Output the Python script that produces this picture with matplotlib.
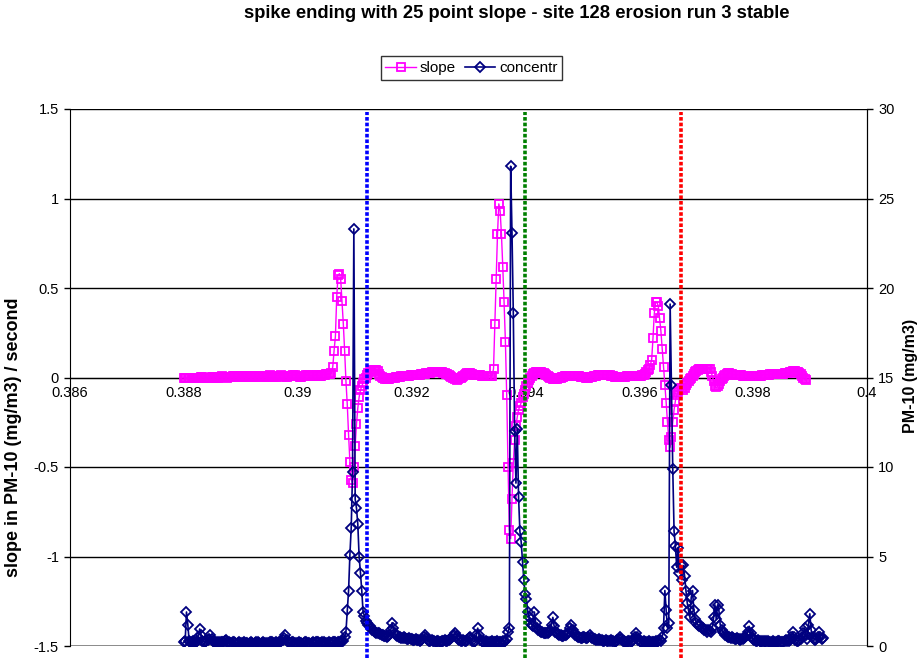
import numpy as np
import matplotlib
matplotlib.use("Agg")
import matplotlib.pyplot as plt

plt.rcParams['font.family'] = ['Liberation Sans', 'DejaVu Sans']

# logger samples every 2 s, time axis in fraction of a day
t_start = 0.388
t_step = 2 / 86400.0

# 25 point slope, PM-10 (mg/m3) / second
slope = [
    0.00, 0.00, -0.005, -0.005, -0.005, 0.00, 0.00, 0.00, -0.005, -0.005,   # 0
    -0.005, 0.00, 0.00, 0.005, 0.005, 0.00, 0.00, -0.005, 0.00, 0.00,
    0.00, 0.005, 0.005, 0.005, 0.00, 0.00, 0.00, 0.005, 0.005, 0.01,
    0.005, 0.005, 0.005, 0.00, 0.005, 0.005, 0.005, 0.01, 0.01, 0.005,
    0.005, 0.005, 0.005, 0.01, 0.01, 0.01, 0.005, 0.005, 0.005, 0.01,
    0.01, 0.01, 0.01, 0.005, 0.005, 0.005, 0.01, 0.01, 0.01, 0.01,       # 50
    0.01, 0.005, 0.005, 0.01, 0.01, 0.015, 0.01, 0.01, 0.005, 0.005,
    0.005, 0.01, 0.01, 0.01, 0.015, 0.01, 0.01, 0.005, 0.005, 0.01,
    0.01, 0.01, 0.01, 0.015, 0.015, 0.01, 0.01, 0.01, 0.005, 0.005,
    0.01, 0.01, 0.01, 0.015, 0.015, 0.01, 0.01, 0.01, 0.01, 0.01,
    0.015, 0.015, 0.01, 0.01, 0.01, 0.015, 0.015, 0.015, 0.02, 0.02,     # 100
    0.02, 0.02, 0.025, 0.06, 0.15, 0.23, 0.45, 0.57, 0.58, 0.55,
    0.43, 0.30, 0.15, -0.02, -0.15, -0.32, -0.47, -0.57, -0.59, -0.50,
    -0.38, -0.26, -0.17, -0.11, -0.07, -0.05, -0.03, -0.01, 0.00, 0.015,
    0.025, 0.03, 0.035, 0.04, 0.04, 0.04, 0.04, 0.035, 0.02, 0.01,
    0.005, 0.00, -0.005, -0.01, -0.01, -0.01, -0.01, -0.005, -0.005, 0.00,  # 150
    0.00, 0.005, 0.005, 0.005, 0.005, 0.01, 0.01, 0.01, 0.01, 0.01,
    0.01, 0.01, 0.015, 0.015, 0.015, 0.015, 0.015, 0.015, 0.015, 0.015,
    0.02, 0.02, 0.02, 0.02, 0.025, 0.025, 0.025, 0.025, 0.03, 0.03,
    0.03, 0.03, 0.03, 0.03, 0.03, 0.03, 0.03, 0.025, 0.025, 0.02,
    0.02, 0.015, 0.01, 0.005, 0.00, -0.005, -0.01, -0.015, -0.01, -0.005,  # 200
    0.00, 0.005, 0.01, 0.015, 0.02, 0.025, 0.025, 0.025, 0.02, 0.02,
    0.015, 0.015, 0.015, 0.015, 0.015, 0.015, 0.01, 0.01, 0.01, 0.01,
    0.01, 0.01, 0.01, 0.01, 0.01, 0.05, 0.30, 0.55, 0.80, 0.97,
    0.93, 0.80, 0.62, 0.42, 0.20, -0.10, -0.50, -0.85, -0.90, -0.68,
    -0.48, -0.35, -0.27, -0.22, -0.18, -0.16, -0.14, -0.11, -0.09, -0.07,  # 250
    -0.05, -0.03, -0.015, 0.00, 0.01, 0.02, 0.025, 0.03, 0.03, 0.03,
    0.03, 0.03, 0.025, 0.025, 0.02, 0.015, 0.01, 0.005, 0.00, -0.005,
    -0.01, -0.01, -0.01, -0.01, -0.005, 0.00, 0.00, 0.005, 0.005, 0.01,
    0.01, 0.01, 0.01, 0.01, 0.01, 0.01, 0.01, 0.01, 0.01, 0.01,
    0.01, 0.005, 0.005, 0.005, 0.005, 0.00, 0.00, 0.00, 0.005, 0.005,    # 300
    0.005, 0.01, 0.01, 0.01, 0.015, 0.015, 0.015, 0.015, 0.015, 0.015,
    0.015, 0.015, 0.015, 0.015, 0.01, 0.01, 0.01, 0.005, 0.005, 0.005,
    0.005, 0.005, 0.005, 0.005, 0.005, 0.005, 0.01, 0.01, 0.01, 0.01,
    0.01, 0.01, 0.01, 0.01, 0.01, 0.01, 0.01, 0.01, 0.015, 0.015,
    0.02, 0.03, 0.04, 0.05, 0.07, 0.10, 0.22, 0.36, 0.42, 0.42,          # 350
    0.40, 0.33, 0.26, 0.16, 0.06, -0.04, -0.14, -0.25, -0.35, -0.39,
    -0.33, -0.25, -0.18, -0.13, -0.10, -0.08, -0.07, -0.06, -0.06, -0.07,
    -0.06, -0.04, -0.03, -0.02, -0.01, 0.00, 0.01, 0.02, 0.03, 0.035,
    0.04, 0.045, 0.05, 0.05, 0.05, 0.05, 0.05, 0.05, 0.05, 0.045,
    0.03, 0.01, -0.02, -0.045, -0.055, -0.05, -0.035, -0.02, -0.01, 0.00,  # 400
    0.01, 0.015, 0.02, 0.025, 0.025, 0.02, 0.02, 0.015, 0.015, 0.015,
    0.015, 0.015, 0.015, 0.015, 0.01, 0.01, 0.01, 0.01, 0.01, 0.01,
    0.01, 0.01, 0.01, 0.01, 0.01, 0.01, 0.01, 0.01, 0.01, 0.015,
    0.015, 0.015, 0.015, 0.015, 0.015, 0.02, 0.02, 0.02, 0.02, 0.02,
    0.02, 0.02, 0.02, 0.02, 0.02, 0.02, 0.025, 0.025, 0.025, 0.025,      # 450
    0.03, 0.03, 0.035, 0.035, 0.035, 0.03, 0.03, 0.025, 0.02, 0.01,
    0.00, -0.01, -0.015,
]

# PM-10 concentration (mg/m3)
concentr = [
    0.2, 0.3, 1.9, 1.2, 0.3, 0.2, 0.25, 0.3, 0.2, 0.25,          # 0
    0.3, 0.5, 0.95, 0.6, 0.3, 0.25, 0.2, 0.3, 0.35, 0.4,
    0.6, 0.4, 0.3, 0.25, 0.2, 0.2, 0.15, 0.2, 0.25, 0.2,
    0.2, 0.3, 0.35, 0.25, 0.2, 0.15, 0.15, 0.2, 0.2, 0.15,
    0.1, 0.15, 0.2, 0.15, 0.1, 0.15, 0.2, 0.15, 0.15, 0.1,
    0.15, 0.2, 0.15, 0.1, 0.15, 0.2, 0.2, 0.15, 0.1, 0.15,       # 50
    0.2, 0.15, 0.15, 0.1, 0.15, 0.2, 0.25, 0.2, 0.15, 0.15,
    0.2, 0.15, 0.2, 0.25, 0.3, 0.35, 0.45, 0.6, 0.35, 0.25,
    0.2, 0.15, 0.2, 0.2, 0.15, 0.1, 0.15, 0.2, 0.15, 0.15,
    0.1, 0.15, 0.2, 0.2, 0.15, 0.15, 0.1, 0.15, 0.2, 0.15,
    0.2, 0.25, 0.2, 0.15, 0.15, 0.2, 0.2, 0.15, 0.1, 0.15,       # 100
    0.2, 0.15, 0.15, 0.2, 0.25, 0.2, 0.15, 0.2, 0.2, 0.25,
    0.3, 0.3, 0.5, 0.8, 2.0, 3.1, 5.1, 6.6, 9.7, 23.3,
    8.2, 7.7, 6.8, 5.0, 4.1, 3.1, 1.9, 1.7, 1.4, 1.3,
    1.2, 1.1, 1.0, 0.9, 0.85, 0.8, 0.75, 0.7, 0.7, 0.65,
    0.6, 0.6, 0.55, 0.55, 0.5, 0.55, 0.6, 0.9, 1.3, 1.0,         # 150
    0.7, 0.6, 0.55, 0.5, 0.5, 0.45, 0.45, 0.5, 0.45, 0.4,
    0.4, 0.45, 0.4, 0.4, 0.35, 0.35, 0.4, 0.35, 0.35, 0.3,
    0.35, 0.4, 0.5, 0.6, 0.45, 0.35, 0.3, 0.3, 0.35, 0.3,
    0.3, 0.25, 0.3, 0.3, 0.25, 0.25, 0.3, 0.3, 0.35, 0.3,
    0.3, 0.35, 0.4, 0.45, 0.55, 0.6, 0.7, 0.55, 0.4, 0.35,       # 200
    0.3, 0.3, 0.35, 0.3, 0.3, 0.35, 0.45, 0.5, 0.4, 0.3,
    0.25, 0.3, 0.6, 1.0, 0.6, 0.35, 0.3, 0.25, 0.25, 0.3,
    0.25, 0.2, 0.2, 0.25, 0.3, 0.25, 0.2, 0.25, 0.3, 0.25,
    0.2, 0.25, 0.3, 0.25, 0.3, 0.4, 0.8, 1.0, 26.8, 23.1,
    18.6, 12.0, 9.1, 12.1, 8.3, 6.4, 5.8, 4.7, 3.7, 2.9,         # 250
    2.6, 1.9, 1.6, 1.3, 1.2, 1.1, 1.9, 1.3, 1.0, 0.9,
    0.85, 0.8, 0.8, 0.75, 0.7, 0.7, 0.75, 0.8, 0.9, 1.2,
    1.6, 1.1, 0.8, 0.7, 0.65, 0.6, 0.6, 0.55, 0.55, 0.6,
    0.6, 0.65, 0.8, 1.0, 1.2, 0.9, 0.7, 0.6, 0.55, 0.5,
    0.5, 0.45, 0.45, 0.5, 0.5, 0.45, 0.45, 0.5, 0.6, 0.5,        # 300
    0.45, 0.4, 0.4, 0.35, 0.35, 0.4, 0.35, 0.35, 0.3, 0.3,
    0.35, 0.3, 0.3, 0.3, 0.35, 0.3, 0.3, 0.25, 0.3, 0.35,
    0.4, 0.5, 0.4, 0.3, 0.3, 0.25, 0.25, 0.3, 0.3, 0.25,
    0.3, 0.35, 0.5, 0.7, 0.5, 0.35, 0.3, 0.25, 0.25, 0.3,
    0.25, 0.2, 0.25, 0.3, 0.25, 0.2, 0.2, 0.25, 0.3, 0.25,       # 350
    0.3, 0.35, 0.3, 0.5, 1.0, 3.1, 2.0, 1.0, 1.3, 19.1,
    14.6, 9.9, 6.4, 5.6, 4.4, 5.5, 4.1, 4.5, 3.7, 4.5,
    3.9, 3.1, 2.4, 2.0, 1.6, 2.7, 3.1, 2.0, 1.5, 1.3,
    1.2, 1.1, 1.2, 1.0, 1.0, 0.9, 0.9, 0.8, 0.9, 0.85,
    0.8, 1.0, 1.6, 2.3, 1.5, 2.3, 2.0, 1.2, 0.9, 0.8,            # 400
    0.7, 0.6, 0.55, 0.5, 0.5, 0.45, 0.5, 0.45, 0.4, 0.4,
    0.45, 0.4, 0.35, 0.4, 0.4, 0.45, 0.5, 0.6, 0.8, 1.1,
    0.7, 0.5, 0.4, 0.35, 0.3, 0.3, 0.35, 0.3, 0.25, 0.3,
    0.3, 0.25, 0.3, 0.3, 0.25, 0.2, 0.25, 0.3, 0.25, 0.2,
    0.25, 0.3, 0.3, 0.25, 0.2, 0.25, 0.3, 0.35, 0.3, 0.3,        # 450
    0.35, 0.5, 0.8, 0.5, 0.35, 0.3, 0.3, 0.35, 0.4, 0.5,
    0.7, 1.0, 0.6, 0.4, 1.2, 1.8, 0.9, 0.5, 0.4, 0.35,
    0.4, 0.5, 0.8, 0.5, 0.4, 0.45,
]

# where each spike was judged to end (day fraction)
spike_ends = [0.39121, 0.39400, 0.39674]
spike_colors = ['#0000FF', '#008000', '#FF0000']

x_ticks = [0.386, 0.388, 0.39, 0.392, 0.394, 0.396, 0.398, 0.4]
left_ticks = [-1.5, -1, -0.5, 0, 0.5, 1, 1.5]
right_ticks = [0, 5, 10, 15, 20, 25, 30]

t_slope = t_start + t_step * np.arange(len(slope))
t_conc = t_start + t_step * np.arange(len(concentr))

W, H = 924, 660
fig = plt.figure(figsize=(W / 100, H / 100), dpi=100)
ax = fig.add_axes([70 / W, 14 / H, 797 / W, 537 / H])
ax2 = ax.twinx()

# horizontal gridlines + grey plot-area border at the bottom
for v in left_ticks[1:]:
    ax.axhline(v, color='black', lw=1, zorder=1)
ax.axhline(left_ticks[0], color='#808080', lw=2, zorder=1)

l1, = ax.plot(t_slope, slope, color='#FF00FF', lw=1, marker='s', ms=6.2,
              mfc='none', mec='#FF00FF', mew=1.3, zorder=3, label='slope')
l2, = ax2.plot(t_conc, concentr, color='#000080', lw=1.2, marker='D', ms=5.2,
               mfc='none', mec='#000080', mew=1.3, zorder=3, label='concentr')

for xv, c in zip(spike_ends, spike_colors):
    ax2.axvline(xv, ymin=-0.022, ymax=0.994, color=c, lw=2.6,
                ls=(0, (1.0, 0.55)), zorder=5, clip_on=False)

ax.set_xlim(0.386, 0.4)
ax.set_ylim(-1.5, 1.5)
ax2.set_ylim(0, 30)

ax.set_xticks(x_ticks)
ax.set_xticklabels([f'{v:g}' for v in x_ticks])
ax.set_yticks(left_ticks)
ax.set_yticklabels([f'{v:g}' for v in left_ticks])
ax2.set_yticks(right_ticks)
ax2.set_yticklabels([str(v) for v in right_ticks])

ax.spines['bottom'].set_position(('data', 0))
ax.spines['top'].set_visible(False)
for s in ['top', 'bottom', 'left']:
    ax2.spines[s].set_visible(False)
ax.spines['left'].set_color('black')
ax2.spines['right'].set_color('black')

ax.tick_params(axis='x', length=0, pad=6, labelsize=10.5)
ax.tick_params(axis='y', length=4, width=1, direction='out', pad=4, labelsize=10.5)
ax2.tick_params(axis='y', length=4, width=1, direction='out', pad=4, labelsize=10.5)

ax.set_ylabel('slope in PM-10 (mg/m3) / second', fontsize=13, fontweight='bold')
ax.yaxis.set_label_coords(-0.0605, 0.389)
ax2.set_ylabel('PM-10 (mg/m3)', fontsize=11.5, fontweight='bold', rotation=90)
ax2.yaxis.set_label_coords(1.0455, 0.503)

fig.text(517 / W, 1 - 14 / H,
         'spike ending with 25 point slope - site 128 erosion run 3 stable',
         ha='center', va='center', fontsize=13.2, fontweight='bold')

leg = fig.legend([l1, l2], ['slope', 'concentr'], loc='center',
                 bbox_to_anchor=(471.5 / W, 1 - 68 / H), ncol=2, fontsize=11,
                 frameon=True, fancybox=False, edgecolor='black',
                 handlelength=2.0, handletextpad=0.25, columnspacing=0.6,
                 borderpad=0.3, borderaxespad=0)
leg.get_frame().set_linewidth(1)

fig.savefig('out.png', dpi=100)
